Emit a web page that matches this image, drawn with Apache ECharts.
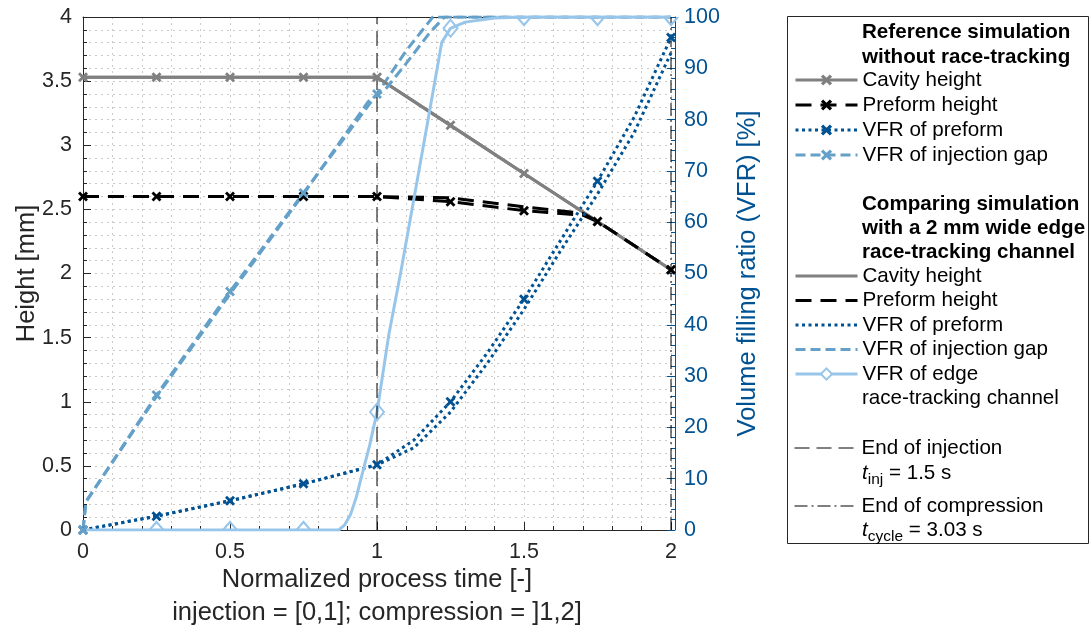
<!DOCTYPE html>
<html>
<head>
<meta charset="utf-8">
<script src="https://cdn.jsdelivr.net/npm/echarts@6/dist/echarts.min.js"></script>
<style>
html, body { margin: 0; padding: 0; background: #fff; }
#main { width: 1090px; height: 630px; }
</style>
</head>
<body>
<div id="main"></div>
<script>
// normalized process time: injection = [0,1], compression = ]1,2]

// reference simulation without race-tracking
const refCavityT = [0, 0.25, 0.5, 0.75, 1, 1.25, 1.5, 1.75, 2];
const refCavityH = [3.53, 3.53, 3.53, 3.53, 3.53, 3.155, 2.78, 2.405, 2.03];
const refPreformT = [0, 0.25, 0.5, 0.75, 1, 1.25, 1.5, 1.7, 1.75, 2];
const refPreformH = [2.6, 2.6, 2.6, 2.6, 2.6, 2.56, 2.49, 2.455, 2.405, 2.03];
const refVfrPreformT = [0, 0.25, 0.5, 0.75, 1, 1.125, 1.25, 1.375, 1.5, 1.625, 1.75, 1.875, 2];
const refVfrPreform = [0, 2.7, 5.7, 9, 12.7, 17.5, 25, 34.5, 45, 56.5, 68, 80.5, 96];
const refVfrGapT = [0, 0.01, 0.25, 0.5, 0.75, 1, 1.1, 1.19, 1.25, 1.5, 1.75, 2];
const refVfrGap = [0, 5.5, 26.3, 46.5, 65.7, 85, 93.5, 100, 100, 100, 100, 100];

// comparing simulation with a 2 mm wide edge race-tracking channel
const cmpCavityT = [0, 0.25, 0.5, 0.75, 1, 1.25, 1.5, 1.75, 2];
const cmpCavityH = [3.53, 3.53, 3.53, 3.53, 3.53, 3.155, 2.78, 2.405, 2.03];
const cmpPreformT = [0, 1, 1.25, 1.5, 1.7, 1.75, 2];
const cmpPreformH = [2.6, 2.6, 2.59, 2.52, 2.47, 2.405, 2.03];
const cmpVfrPreformT = [0, 0.25, 0.5, 0.75, 1, 1.125, 1.25, 1.375, 1.5, 1.625, 1.75, 1.875, 2];
const cmpVfrPreform = [0, 2.7, 5.7, 9, 12.7, 16, 23, 32.5, 43, 54.5, 65.5, 77.5, 93];
const cmpVfrGapT = [0, 0.01, 0.25, 0.5, 0.75, 0.97, 1.03, 1.1, 1.18, 1.23, 2];
const cmpVfrGap = [0, 5.5, 26, 46, 65.5, 83.5, 86, 91, 97, 100, 100];
const cmpVfrEdgeT = [0, 0.25, 0.5, 0.75, 0.87, 0.89, 0.91, 0.93, 0.95, 0.975, 1, 1.04, 1.08, 1.13, 1.18, 1.22, 1.25, 1.3, 1.4, 1.5, 1.75, 2];
const cmpVfrEdge = [0, 0, 0, 0, 0, 1, 3, 6.5, 11, 16.5, 23, 38, 50, 66, 82, 95, 97.8, 99, 99.8, 100, 100, 100];

// end of injection / compression
const endInjectionT = 1;
const endCompressionT = 2;

const xTicks = [0, 0.5, 1, 1.5, 2];

const FONT = '"Liberation Sans", Arial, Helvetica, sans-serif';
const GRAY = '#808080';
const BLACK = '#000000';
const DARKBLUE = '#005293';
const MIDBLUE = '#64a0c8';
const LIGHTBLUE = '#98c6ea';
const AXIS = '#262626';
const GRID = '#cacaca';

const TICK_FS = 21.5;
const TITLE_FS = 25.5;
const LEG_FS = 20.6;

const X_MARK = 'path://M0,2 L2,0 L5,3 L8,0 L10,2 L7,5 L10,8 L8,10 L5,7 L2,10 L0,8 L3,5 Z';
const HALF_DIA_UP = 'path://M0,8 L7,0 L14,8';
const HALF_DIA_DOWN = 'path://M0,0 L7,8 L14,0';

const onQuarter = x => Math.abs(x * 4 - Math.round(x * 4)) < 1e-6;

// x markers only on the quarter time steps
function crossPoints(xs, ys, maxY) {
    return xs.map((x, i) => {
        const item = { value: [x, ys[i]] };
        if (!onQuarter(x) || (maxY !== undefined && ys[i] >= maxY)) item.symbol = 'none';
        return item;
    });
}

function plainPoints(xs, ys) {
    return xs.map((x, i) => [x, ys[i]]);
}

// diamonds cut in half where they sit on the axis box
function diamondPoints(xs, ys) {
    return xs.map((x, i) => {
        const y = ys[i];
        const item = { value: [x, y] };
        if (!onQuarter(x) || x === 0) {
            item.symbol = 'none';
        } else if (y <= 0) {
            item.symbol = HALF_DIA_UP;
            item.symbolSize = [14, 8];
            item.symbolOffset = [0, -4];
        } else if (y >= 100) {
            item.symbol = HALF_DIA_DOWN;
            item.symbolSize = [14, 8];
            item.symbolOffset = [0, 4];
        }
        return item;
    });
}

function lineSeries(name, yAxisIndex, data, color, type, symbol) {
    return {
        name: name,
        type: 'line',
        yAxisIndex: yAxisIndex,
        data: data,
        symbol: symbol || 'none',
        symbolSize: 10,
        showAllSymbol: true,
        color: color,
        lineStyle: { color: color, width: 3, type: type, cap: 'butt' },
        itemStyle: { color: color },
        emphasis: { disabled: true }
    };
}

const series = [
    lineSeries('ref:Cavity height', 0, crossPoints(refCavityT, refCavityH), GRAY, 'solid', X_MARK),
    lineSeries('ref:Preform height', 0, crossPoints(refPreformT, refPreformH), BLACK, [16, 9], X_MARK),
    lineSeries('ref:VFR of preform', 1, crossPoints(refVfrPreformT, refVfrPreform), DARKBLUE, [3, 3.5], X_MARK),
    lineSeries('ref:VFR of injection gap', 1, crossPoints(refVfrGapT, refVfrGap, 100), MIDBLUE, [10, 5], X_MARK),
    lineSeries('cmp:Cavity height', 0, plainPoints(cmpCavityT, cmpCavityH), GRAY, 'solid'),
    lineSeries('cmp:Preform height', 0, plainPoints(cmpPreformT, cmpPreformH), BLACK, [16, 9]),
    lineSeries('cmp:VFR of preform', 1, plainPoints(cmpVfrPreformT, cmpVfrPreform), DARKBLUE, [3, 3.5]),
    lineSeries('cmp:VFR of injection gap', 1, plainPoints(cmpVfrGapT, cmpVfrGap), MIDBLUE, [10, 5]),
    {
        name: 'cmp:VFR of edge',
        type: 'line',
        yAxisIndex: 1,
        data: diamondPoints(cmpVfrEdgeT, cmpVfrEdge),
        symbol: 'diamond',
        symbolSize: [14, 17],
        showAllSymbol: true,
        lineStyle: { color: LIGHTBLUE, width: 3 },
        itemStyle: { color: 'rgba(255,255,255,0)', borderColor: LIGHTBLUE, borderWidth: 2 },
        emphasis: { disabled: true }
    },
    {
        name: 'end:End of injection:',
        type: 'line',
        yAxisIndex: 0,
        data: [[endInjectionT, 0], [endInjectionT, 4]],
        symbol: 'none',
        color: BLACK,
        lineStyle: { color: BLACK, width: 1, type: [15, 7] },
        emphasis: { disabled: true }
    },
    {
        name: 'end:End of compression:',
        type: 'line',
        yAxisIndex: 0,
        data: [[endCompressionT, 0], [endCompressionT, 4]],
        symbol: 'none',
        color: BLACK,
        lineStyle: { color: BLACK, width: 1, type: [13, 4, 2, 4] },
        emphasis: { disabled: true }
    }
];

const hidden = { color: 'rgba(0,0,0,0)', borderColor: 'rgba(0,0,0,0)', borderWidth: 0 };

function legendBlock(top, gap, items) {
    return {
        orient: 'vertical',
        left: 794,
        top: top,
        padding: 0,
        itemGap: gap,
        itemWidth: 62,
        itemHeight: 14,
        selectedMode: false,
        data: items,
        lineStyle: { width: 'inherit' },
        formatter: name => name.split(':')[1],
        textStyle: { fontFamily: FONT, fontSize: LEG_FS, lineHeight: 24, color: BLACK }
    };
}

const legends = [
    legendBlock(68, 1, [
        { name: 'ref:Cavity height' },
        { name: 'ref:Preform height' },
        { name: 'ref:VFR of preform' },
        { name: 'ref:VFR of injection gap' }
    ]),
    legendBlock(264, 0.5, [
        { name: 'cmp:Cavity height', itemStyle: hidden },
        { name: 'cmp:Preform height', itemStyle: hidden },
        { name: 'cmp:VFR of preform', itemStyle: hidden },
        { name: 'cmp:VFR of injection gap', itemStyle: hidden },
        { name: 'cmp:VFR of edge', itemStyle: { color: '#fff' } }
    ]),
    legendBlock(436, 0, [{ name: 'end:End of injection:', itemStyle: hidden }]),
    legendBlock(494, 0, [{ name: 'end:End of compression:', itemStyle: hidden }])
];

function legendText(x, y, text, bold) {
    return {
        type: 'text',
        x: x,
        y: y,
        z: 10,
        style: {
            text: text,
            font: (bold ? 'bold ' : '') + LEG_FS + 'px ' + FONT,
            fill: BLACK,
            verticalAlign: 'middle'
        }
    };
}

function subText(x, y, sub, rest) {
    return {
        type: 'text',
        x: x,
        y: y,
        z: 10,
        style: {
            text: '{t|t}{s|' + sub + '}{n|' + rest + '}',
            verticalAlign: 'middle',
            rich: {
                t: { fontFamily: FONT, fontSize: LEG_FS, fontStyle: 'italic', fill: BLACK, lineHeight: 28, verticalAlign: 'middle' },
                s: { fontFamily: FONT, fontSize: 15.5, fill: BLACK, lineHeight: 29, verticalAlign: 'bottom' },
                n: { fontFamily: FONT, fontSize: LEG_FS, fill: BLACK, lineHeight: 28, verticalAlign: 'middle' }
            }
        }
    };
}

const dotted = { color: GRID, width: 1, type: [2, 4] };

const option = {
    animation: false,
    backgroundColor: '#fff',
    textStyle: { fontFamily: FONT },
    grid: { left: 83, top: 17, width: 588, height: 513, containLabel: false, outerBoundsMode: 'none' },
    legend: legends,
    xAxis: [
        {
            type: 'value',
            min: 0,
            max: 2,
            interval: 0.5,
            name: 'Normalized process time [-]\ninjection = [0,1]; compression = ]1,2]',
            nameLocation: 'middle',
            nameGap: 33,
            nameMoveOverlap: false,
            nameTextStyle: { fontSize: TITLE_FS, lineHeight: 33, color: AXIS, fontFamily: FONT },
            axisLine: { show: true, onZero: false, lineStyle: { color: AXIS, width: 1 } },
            axisTick: { show: true, inside: true, length: 8, lineStyle: { color: AXIS } },
            minorTick: { show: true, splitNumber: 5, length: 4, lineStyle: { color: AXIS } },
            axisLabel: { fontSize: TICK_FS, color: AXIS, margin: 11, fontFamily: FONT,
                formatter: v => xTicks.indexOf(v) >= 0 ? String(v) : '' },
            splitLine: { show: true, lineStyle: dotted },
            minorSplitLine: { show: true, lineStyle: dotted }
        },
        {
            type: 'value',
            position: 'top',
            min: 0,
            max: 2,
            interval: 0.5,
            axisLine: { show: true, onZero: false, lineStyle: { color: AXIS, width: 1 } },
            axisTick: { show: false },
            axisLabel: { show: false },
            splitLine: { show: false }
        }
    ],
    yAxis: [
        {
            type: 'value',
            position: 'left',
            min: 0,
            max: 4,
            interval: 0.5,
            name: 'Height [mm]',
            nameLocation: 'middle',
            nameGap: 43,
            nameMoveOverlap: false,
            nameTextStyle: { fontSize: TITLE_FS, color: AXIS, fontFamily: FONT },
            axisLine: { show: true, onZero: false, lineStyle: { color: AXIS, width: 1 } },
            axisTick: { show: true, inside: true, length: 8, lineStyle: { color: AXIS } },
            minorTick: { show: true, splitNumber: 5, length: 4, lineStyle: { color: AXIS } },
            axisLabel: { fontSize: TICK_FS, color: AXIS, margin: 11, fontFamily: FONT },
            splitLine: { show: true, lineStyle: dotted },
            minorSplitLine: { show: true, lineStyle: dotted }
        },
        {
            type: 'value',
            position: 'right',
            offset: 4,
            min: 0,
            max: 100,
            interval: 10,
            name: 'Volume filling ratio (VFR) [%]',
            nameLocation: 'middle',
            nameGap: 60,
            nameMoveOverlap: false,
            nameTextStyle: { fontSize: TITLE_FS, color: DARKBLUE, fontFamily: FONT },
            axisLine: { show: true, onZero: false, lineStyle: { color: DARKBLUE, width: 1 } },
            axisTick: { show: true, inside: true, length: 8, lineStyle: { color: DARKBLUE } },
            minorTick: { show: true, splitNumber: 5, length: 4, lineStyle: { color: DARKBLUE } },
            axisLabel: { fontSize: TICK_FS, color: DARKBLUE, margin: 9, fontFamily: FONT },
            splitLine: { show: false }
        }
    ],
    graphic: [
        {
            type: 'rect',
            z: 0,
            shape: { x: 787.5, y: 16.5, width: 301, height: 527 },
            style: { fill: '#fff', stroke: AXIS, lineWidth: 1 }
        },
        legendText(862, 32, 'Reference simulation', true),
        legendText(862, 57, 'without race-tracking', true),
        legendText(862, 204, 'Comparing simulation', true),
        legendText(862, 228, 'with a 2 mm wide edge', true),
        legendText(862, 252, 'race-tracking channel', true),
        legendText(862, 398, 'race-tracking channel', false),
        subText(862, 473, 'inj', ' = 1.5 s'),
        subText(862, 530, 'cycle', ' = 3.03 s')
    ],
    series: series
};

const chart = echarts.init(document.getElementById('main'), null, { renderer: 'canvas' });
chart.setOption(option);
</script>
</body>
</html>
